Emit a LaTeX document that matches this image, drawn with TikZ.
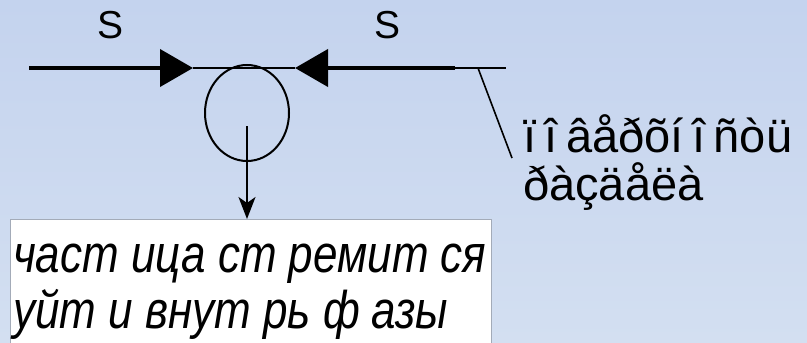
\documentclass[tikz,border=0pt]{standalone}
\usepackage{fontspec}
\setmainfont{Liberation Sans}
\newfontfamily\rufont[FakeStretch=0.83]{Liberation Sans}
\usetikzlibrary{arrows.meta,shapes.geometric}
\definecolor{SlideTop}{HTML}{C4D3EE}
\definecolor{SlideBottom}{HTML}{D3DFF1}
\definecolor{NoteFrame}{HTML}{A3ABB8}
\newcommand{\gap}{\hspace{0.18em}}

\begin{document}
\begin{tikzpicture}[x=1pt,y=-1pt]
    \clip (0,0) rectangle (807,343);
    \shade[top color=SlideTop, bottom color=SlideBottom] (0,0) rectangle (807,343);

    % Interface line
    \coordinate (lfar) at (29,68);
    \coordinate (ltip) at (193,68);
    \coordinate (rtip) at (295,68);
    \coordinate (rthick) at (455,68);
    \coordinate (rend) at (506,68);
    \coordinate (lead) at (478,68);
    \coordinate (leadend) at (512,158);

    % Stress labels
    \node[font=\fontsize{39}{44}\selectfont] (sleft) at (111,25) {S};
    \node[font=\fontsize{39}{44}\selectfont] (sright) at (388,25) {S};

    % Particle
    \node[draw, ellipse, line width=2pt, minimum width=84pt, minimum height=96pt, inner sep=0pt] (bubble) at (247,113) {};

    % Note
    \node[draw=NoteFrame, fill=white, line width=0.8pt, anchor=north west, minimum width=481pt, minimum height=140pt] (note) at (10,219) {};
    \node[font=\fontsize{53}{56}\selectfont\rufont\itshape, align=left, anchor=base west, inner sep=0pt] (notetext) at (13,328) {част ица ст ремит ся\\уйт и внут рь ф азы};

    % Interface label
    \node[font=\fontsize{47}{48}\selectfont, align=left, anchor=base west, inner sep=0pt] (surface) at (523,200) {ï\gap î\gap âåðõí\gap î\gap ñòü\\ðàçäåëà};

    \draw[line width=4pt, -{Triangle[length=33pt,width=37pt]}] (lfar) -- (ltip);
    \draw[line width=2pt] (ltip) -- (rtip);
    \draw[line width=4pt, -{Triangle[length=33pt,width=37pt]}] (rthick) -- (rtip);
    \draw[line width=2pt] (rthick) -- (rend);
    \draw[line width=1.6pt] (lead) -- (leadend);
    \draw[line width=2.4pt, -{Stealth[length=22pt,width=17pt,inset=6pt]}] ([yshift=-13pt]bubble.center) -- (bubble.center |- note.north);
\end{tikzpicture}
\end{document}
